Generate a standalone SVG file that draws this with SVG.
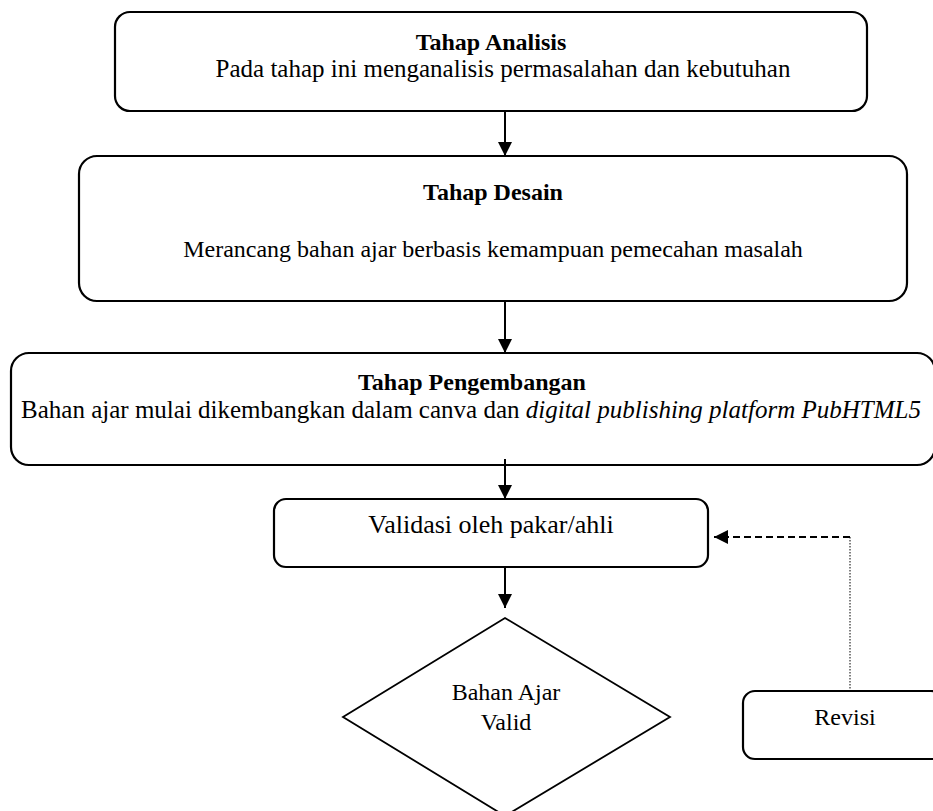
<svg xmlns="http://www.w3.org/2000/svg" width="933" height="811" viewBox="0 0 933 811">
<defs>
<marker id="ah" markerWidth="14" markerHeight="14" refX="14" refY="7" orient="auto" markerUnits="userSpaceOnUse">
<path d="M0,0 L14,7 L0,14 Z" fill="#000"/>
</marker>
<style>
.box{fill:#fff;stroke:#000;stroke-width:2.2}
.dia{fill:#fff;stroke:#000;stroke-width:1.8}
.t{font-family:"Liberation Serif","Times New Roman",serif;font-size:24px;fill:#000;text-anchor:middle}
.b{font-weight:bold}
.i{font-style:italic}
.c{stroke:#000;stroke-width:2;fill:none}
</style>
</defs>
<rect width="933" height="811" fill="#fff"/>
<g id="analisis">
<rect class="box" x="115" y="12" width="752" height="99" rx="15"/>
<text class="t b" x="491" y="50">Tahap Analisis</text>
<text class="t" x="503" y="77" style="font-size:25px">Pada tahap ini menganalisis permasalahan dan kebutuhan</text>
</g>
<g id="desain">
<rect class="box" x="79" y="156" width="828" height="145" rx="18"/>
<text class="t b" x="493" y="200">Tahap Desain</text>
<text class="t" x="493" y="257">Merancang bahan ajar berbasis kemampuan pemecahan masalah</text>
</g>
<g id="pengembangan">
<rect class="box" x="11" y="353" width="924" height="112" rx="18"/>
<text class="t b" x="472" y="390">Tahap Pengembangan</text>
<text class="t" x="471" y="418" style="font-size:25px">Bahan ajar mulai dikembangkan dalam canva dan <tspan class="i">digital publishing platform PubHTML5</tspan></text>
</g>
<g id="validasi">
<rect class="box" x="274" y="499" width="434" height="68" rx="12"/>
<text class="t" x="491" y="533" style="font-size:26px">Validasi oleh pakar/ahli</text>
</g>
<g id="valid">
<polygon class="dia" points="505,618 670,717 505,816 343,717"/>
<text class="t" x="506" y="700">Bahan Ajar</text>
<text class="t" x="506" y="730">Valid</text>
</g>
<g id="revisi">
<rect class="box" x="743" y="691" width="200" height="68" rx="12"/>
<text class="t" x="845" y="725">Revisi</text>
</g>
<g id="connectors">
<line class="c" x1="505" y1="111" x2="505" y2="156" marker-end="url(#ah)"/>
<line class="c" x1="505" y1="301" x2="505" y2="353" marker-end="url(#ah)"/>
<line class="c" x1="505" y1="459" x2="505" y2="499" marker-end="url(#ah)"/>
<line class="c" x1="505" y1="567" x2="505" y2="608" marker-end="url(#ah)"/>
<line x1="850" y1="537" x2="850" y2="691" stroke="#000" stroke-width="1" stroke-dasharray="1.5,1.5"/>
<line x1="850" y1="537" x2="714" y2="537" stroke="#000" stroke-width="2.2" stroke-dasharray="7,4" marker-end="url(#ah)"/>
</g>
</svg>
